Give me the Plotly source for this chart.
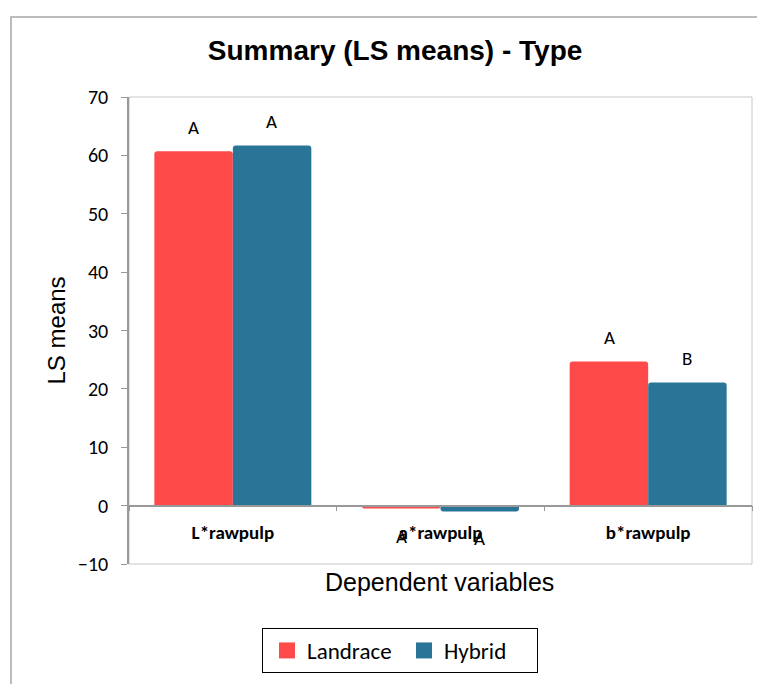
import plotly.graph_objects as go

categories = ["L*rawpulp", "a*rawpulp", "b*rawpulp"]
series_names = ["Landrace", "Hybrid"]
landrace = [60.7, -0.5, 24.7]
hybrid = [61.7, -1.0, 21.1]
landrace_letters = ["A", "A", "A"]
hybrid_letters = ["A", "A", "B"]
y_ticks = [-10, 0, 10, 20, 30, 40, 50, 60, 70]

colors = ["#FF4A4A", "#2A7497"]
FONT = "Calibri, Carlito, Lato, sans-serif"
ARIAL = "Arial, Liberation Sans, sans-serif"

fig = go.Figure()
for name, vals, col in zip(series_names, [landrace, hybrid], colors):
    fig.add_trace(go.Bar(x=categories, y=vals, name=name, showlegend=False,
                         marker=dict(color=col, line=dict(width=0))))
# legend entries with larger square swatches
for name, col in zip(series_names, colors):
    fig.add_trace(go.Scatter(x=[None], y=[None], mode="markers", name=name,
                             marker=dict(symbol="square", size=18, color=col)))

# letter labels above/below bars
for k, (vals, letters) in enumerate([(landrace, landrace_letters), (hybrid, hybrid_letters)]):
    shift = -39 if k == 0 else 39
    for c, v, t in zip(categories, vals, letters):
        pos = v >= 0
        fig.add_annotation(x=c, y=v, text=t, showarrow=False, xshift=shift,
                           yanchor="bottom" if pos else "top",
                           yshift=10 if pos else -14,
                           font=dict(family=FONT, size=19, color="#000"))

# axis titles
fig.add_annotation(x=0.4976, y=-0.0385, xref="paper", yref="paper", text="Dependent variables",
                   showarrow=False, font=dict(family=ARIAL, size=25, color="#000"),
                   xanchor="center", yanchor="middle")
fig.add_annotation(x=-0.1156, y=0.5, xref="paper", yref="paper", text="LS means",
                   showarrow=False, textangle=-90, font=dict(family=ARIAL, size=24, color="#000"),
                   xanchor="center", yanchor="middle")

# plot frame and outer chart border
fig.add_shape(type="rect", xref="paper", yref="paper", x0=0, x1=1, y0=0, y1=1,
              line=dict(color="#C8C8C8", width=1), layer="below")
fig.add_shape(type="rect", xref="paper", yref="paper", x0=-0.1894, x1=1.05, y0=-0.30, y1=1.1713,
              line=dict(color="#A6A6A6", width=1.5), layer="below")

fig.update_layout(
    width=765, height=684,
    margin=dict(l=121, r=21, t=89, b=128),
    paper_bgcolor="white", plot_bgcolor="white",
    barmode="group", bargap=0.244, bargroupgap=0, barcornerradius=3,
    title=dict(text="<b>Summary (LS means) - Type</b>", x=0.506, xanchor="center",
               y=0.938, yanchor="middle", font=dict(family=ARIAL, size=28, color="#000")),
    showlegend=True,
    legend=dict(orientation="h", x=0.2135, y=-0.137, xanchor="left", yanchor="top",
                bordercolor="#000", borderwidth=1, bgcolor="white",
                font=dict(family=FONT, size=23, color="#000"),
                itemsizing="trace", itemwidth=30, tracegroupgap=0, entrywidth=88,
                indentation=4),
    xaxis=dict(type="category", anchor="free", position=0.125, showline=True,
               linecolor="#999999", linewidth=1.5, ticks="outside", tickson="boundaries",
               ticklen=5, tickcolor="#999999", showgrid=False, zeroline=False,
               tickfont=dict(family=FONT, size=19, color="#000", weight="bold"),
               ticklabelstandoff=10),
    yaxis=dict(range=[-10, 70], tickvals=y_ticks, showline=True, linecolor="#999999",
               linewidth=1.5, ticks="outside", ticklen=6, tickcolor="#999999",
               showgrid=False, zeroline=False,
               tickfont=dict(family=FONT, size=20, color="#000"), ticklabelstandoff=9),
)

fig.write_html("out.html")
